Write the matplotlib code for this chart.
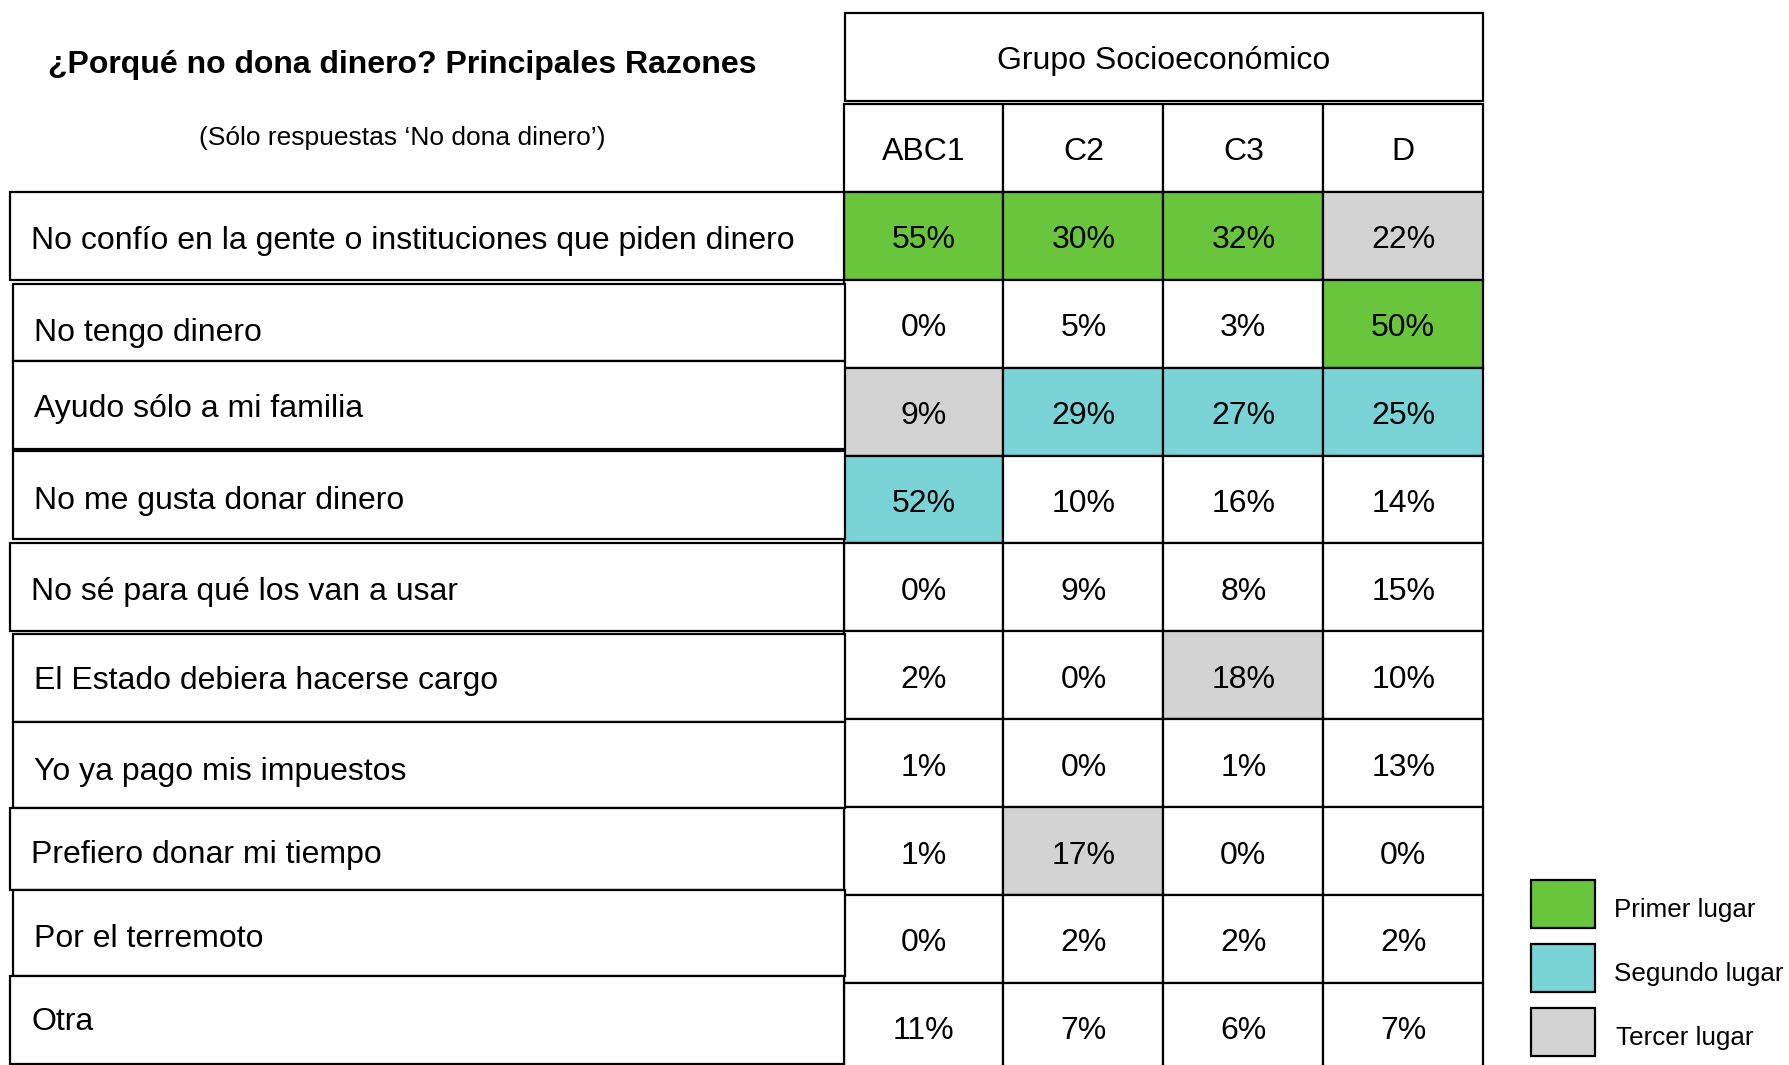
import matplotlib
matplotlib.use("Agg")
import matplotlib.pyplot as plt
from matplotlib.patches import Rectangle

# ---------------- data ----------------
title = "¿Porqué no dona dinero? Principales Razones"
subtitle = "(Sólo respuestas \u2018No dona dinero\u2019)"
group_title = "Grupo Socioeconómico"
groups = ["ABC1", "C2", "C3", "D"]
reasons = [
    "No confío en la gente o instituciones que piden dinero",
    "No tengo dinero",
    "Ayudo sólo a mi familia",
    "No me gusta donar dinero",
    "No sé para qué los van a usar",
    "El Estado debiera hacerse cargo",
    "Yo ya pago mis impuestos",
    "Prefiero donar mi tiempo",
    "Por el terremoto",
    "Otra",
]
abc1 = [55, 0, 9, 52, 0, 2, 1, 1, 0, 11]
c2 = [30, 5, 29, 10, 9, 0, 0, 17, 2, 7]
c3 = [32, 3, 27, 16, 8, 18, 1, 0, 2, 6]
d = [22, 50, 25, 14, 15, 10, 13, 0, 2, 7]
# ranking highlight: 1 = primer, 2 = segundo, 3 = tercer, 0 = none
rank_abc1 = [1, 0, 3, 2, 0, 0, 0, 0, 0, 0]
rank_c2 = [1, 0, 2, 0, 0, 0, 0, 3, 0, 0]
rank_c3 = [1, 0, 2, 0, 0, 3, 0, 0, 0, 0]
rank_d = [3, 1, 2, 0, 0, 0, 0, 0, 0, 0]
legend_labels = ["Primer lugar", "Segundo lugar", "Tercer lugar"]

# ---------------- style ----------------
rank_colors = {0: "white", 1: "#69C53B", 2: "#7AD3D6", 3: "#D3D3D3"}
FONT = "Liberation Sans"
LW = 1.6
FS = 23
DY = 3.5  # vertical text offset (px) to match baseline placement

values = [abc1, c2, c3, d]
ranks = [rank_abc1, rank_c2, rank_c3, rank_d]

W, H = 1790, 1065
fig = plt.figure(figsize=(W / 100, H / 100), dpi=100)
ax = fig.add_axes([0, 0, 1, 1])
ax.set_xlim(0, W)
ax.set_ylim(H, 0)
ax.axis("off")

# layout
col_x0 = 843.6
col_w = 159.9
row_y0 = 191.8
row_h = 87.9
hdr_y0, hdr_y1 = 103.9, row_y0

# group title box
ax.add_patch(Rectangle((col_x0 + 1, 12.6), col_w * 4 - 1, 88, facecolor="white",
                       edgecolor="black", lw=LW))
ax.text(col_x0 + col_w * 2, 57 + DY + 1, group_title, ha="center", va="center",
        fontsize=FS, family=FONT)

# column headers
for j, g in enumerate(groups):
    x = col_x0 + j * col_w
    ax.add_patch(Rectangle((x, hdr_y0), col_w, hdr_y1 - hdr_y0, facecolor="white",
                           edgecolor="black", lw=LW))
    ax.text(x + col_w / 2, (hdr_y0 + hdr_y1) / 2 + 1 + DY, g, ha="center",
            va="center", fontsize=FS, family=FONT)

# value cells
for j in range(len(groups)):
    for i in range(len(reasons)):
        x = col_x0 + j * col_w
        y = row_y0 + i * row_h
        ax.add_patch(Rectangle((x, y), col_w, row_h,
                               facecolor=rank_colors[ranks[j][i]],
                               edgecolor="black", lw=LW, clip_on=True))
        ax.text(x + col_w / 2, y + row_h / 2 + 1 + DY, f"{values[j][i]}%",
                ha="center", va="center", fontsize=FS, family=FONT)

# left label boxes (slightly misaligned, as in the original)
label_boxes = [
    (10.3, 843.6, 191.8, 279.7),
    (12.6, 844.8, 284.3, 360.7),
    (12.6, 844.8, 360.7, 448.6),
    (12.6, 844.8, 450.9, 538.8),
    (10.3, 843.6, 543.4, 631.3),
    (12.6, 844.8, 633.6, 721.5),
    (12.6, 844.8, 721.5, 808.2),
    (10.3, 843.6, 808.2, 890.4),
    (12.6, 844.8, 890.4, 976.0),
    (10.3, 843.6, 976.0, 1063.5),
]
label_dy = [2, 7, 2, 3, 2, 1, 4, 3, 3, 0]
for k, (lab, (x0, x1, y0, y1)) in enumerate(zip(reasons, label_boxes)):
    ax.add_patch(Rectangle((x0, y0), x1 - x0, y1 - y0, facecolor="white",
                           edgecolor="black", lw=LW))
    ax.text(x0 + 21, (y0 + y1) / 2 + label_dy[k] * 1.14 + DY - 1, lab, ha="left",
            va="center", fontsize=FS, family=FONT)

# title / subtitle
ax.text(402, 62 + DY, title, ha="center", va="center", fontsize=FS, family=FONT,
        fontweight="bold")
ax.text(402, 135 + DY - 1, subtitle, ha="center", va="center", fontsize=19,
        family=FONT)

# legend
leg_x, leg_w, leg_h = 1531, 64, 48
leg_y = [880, 944, 1008]
for k, lab in enumerate(legend_labels):
    ax.add_patch(Rectangle((leg_x, leg_y[k]), leg_w, leg_h,
                           facecolor=rank_colors[k + 1], edgecolor="black", lw=LW))
    ax.text(1614 + (2 if k == 2 else 0), leg_y[k] + leg_h / 2 + 3 + DY, lab,
            ha="left", va="center", fontsize=18.7, family=FONT)

fig.savefig("out.png", dpi=100, facecolor="white")
